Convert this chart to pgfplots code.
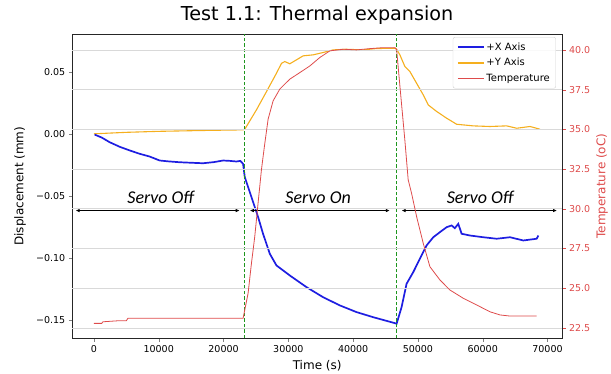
\documentclass[border=0pt]{standalone}
\usepackage{pgfplots}
\pgfplotsset{compat=1.18}
\usepackage{fontspec}
\setmainfont{DejaVu Sans}
\newfontfamily\servofont{Carlito}
\usetikzlibrary{calc,arrows.meta}
\definecolor{cBlue}{RGB}{30,30,225}
\definecolor{cOrange}{RGB}{245,175,30}
\definecolor{cRed}{RGB}{222,75,75}
\definecolor{cGreen}{RGB}{30,150,30}
\begin{document}
\begin{tikzpicture}
\pgfplotsset{
  every axis/.append style={
    width=489.7pt, height=304.3pt, scale only axis,
    xmin=-3340, xmax=72240,
    scaled x ticks=false, scaled y ticks=false,
    tick align=outside, major tick length=3.5pt,
    tick label style={font=\fontsize{9.5}{11}\selectfont},
    axis line style={line width=0.8pt, black!85},
  }
}
\begin{axis}[
  ymin=-0.1647, ymax=0.0804,
  xtick={0,10000,20000,30000,40000,50000,60000,70000},
  xticklabels={0,10000,20000,30000,40000,50000,60000,70000},
  ytick={-0.15,-0.10,-0.05,0,0.05},
  yticklabels={−0.15,−0.10,−0.05,0.00,0.05},
  xtick pos=lower, ytick pos=left,
  xlabel={Time (s)},
  ylabel={Displacement (mm)},
  xlabel style={at={(axis description cs:0.5,-0.091)}, anchor=center, font=\fontsize{12}{14}\selectfont},
  ylabel style={at={(axis description cs:-0.1068,0.5)}, anchor=center, font=\fontsize{12}{14}\selectfont},
  title={Test 1.1: Thermal expansion},
  title style={at={(axis description cs:0.5,1.0256)}, anchor=base, font=\fontsize{19.2}{22}\selectfont},
  clip=true,
]
\coordinate (sw) at (rel axis cs:0,0);
\coordinate (ne) at (rel axis cs:1,1);
% Y axis
\addplot[color=cOrange, line width=1.1pt] coordinates {
(0,0.0) (5000,0.0012) (10000,0.002) (17000,0.0027) (23000,0.0032) (23280,0.0037)
(25080,0.0193) (26630,0.034) (28170,0.0488) (28950,0.0568) (29460,0.0582) (30230,0.0564)
(31260,0.0596) (32290,0.0628) (33830,0.0636) (35370,0.0655) (36920,0.0676) (38980,0.0681)
(41550,0.0676) (43620,0.0687) (46450,0.0689) (46710,0.0681) (47220,0.0636) (47990,0.0542)
(48760,0.0502) (49800,0.0407) (50820,0.0314) (51590,0.0233) (52890,0.018) (54430,0.0126)
(55980,0.0077) (58540,0.0064) (61120,0.0059) (63700,0.0064) (65250,0.0045) (67300,0.0059)
(68850,0.0037)
};
% X axis
\addplot[color=cBlue, line width=1.7pt] coordinates {
(100,-0.0006) (1200,-0.003) (2440,-0.0068) (4000,-0.0105) (5530,-0.0134) (7000,-0.016)
(8600,-0.0183) (10150,-0.0215) (11500,-0.0222) (13250,-0.0229) (15000,-0.0233) (16840,-0.0237)
(18500,-0.0228) (19930,-0.0215) (21000,-0.0218) (21990,-0.0223) (22600,-0.0218) (23020,-0.0242)
(23280,-0.0349) (24310,-0.051) (25340,-0.0671) (26100,-0.0805) (27140,-0.0966) (28170,-0.106)
(30230,-0.1141) (32810,-0.1235) (35370,-0.1316) (37950,-0.1382) (40530,-0.1436) (43100,-0.1477)
(46450,-0.1525) (46710,-0.1530) (47480,-0.1396) (48250,-0.1208) (49280,-0.1114) (50310,-0.1006)
(51340,-0.0899) (52370,-0.0833) (53400,-0.0792) (54430,-0.0752) (55210,-0.0738) (55700,-0.0760)
(56230,-0.0725) (56750,-0.0805) (58030,-0.0819) (60090,-0.0833) (62150,-0.0845) (64210,-0.0833)
(66270,-0.0859) (68330,-0.0845) (68590,-0.0819)
};
% vertical dashed lines
\addplot[color=cGreen, line width=0.8pt, dash pattern=on 3.5pt off 2pt] coordinates {(23170,-0.1647) (23170,0.0804)};
\addplot[color=cGreen, line width=0.8pt, dash pattern=on 3.5pt off 2pt] coordinates {(46710,-0.1647) (46710,0.0804)};
% arrows
\draw[{Latex[length=4pt,width=3.5pt]}-{Latex[length=4pt,width=3.5pt]}, line width=0.8pt] (axis cs:-2830,-0.0618) -- (axis cs:22500,-0.0618);
\draw[{Latex[length=4pt,width=3.5pt]}-{Latex[length=4pt,width=3.5pt]}, line width=0.8pt] (axis cs:24050,-0.0618) -- (axis cs:45670,-0.0618);
\draw[{Latex[length=4pt,width=3.5pt]}-{Latex[length=4pt,width=3.5pt]}, line width=0.8pt] (axis cs:47480,-0.0618) -- (axis cs:71470,-0.0618);
\node[font=\servofont\itshape\fontsize{18}{20}\selectfont] at (axis cs:10300,-0.0513) {Servo Off};
\node[font=\servofont\itshape\fontsize{18}{20}\selectfont] at (axis cs:34600,-0.0513) {Servo On};
\node[font=\servofont\itshape\fontsize{18}{20}\selectfont] at (axis cs:59600,-0.0513) {Servo Off};
\end{axis}
\begin{axis}[
  ymin=21.85, ymax=41.0,
  axis x line=none, axis y line*=right,
  ytick={22.5,25,27.5,30,32.5,35,37.5,40},
  yticklabels={22.5,25.0,27.5,30.0,32.5,35.0,37.5,40.0},
  yticklabel style={text=cRed},
  ytick style={draw=cRed},
  ymajorgrids, grid style={gray!30, line width=0.6pt},
  ylabel={Temperature (oC)},
  ylabel style={at={(axis description cs:1.0817,0.5)}, anchor=center, text=cRed, font=\fontsize{12}{14}\selectfont},
  legend style={at={(axis description cs:0.9877,0.99)}, anchor=north east, draw=gray!35, rounded corners=2pt,
    fill=white, fill opacity=0.85, text opacity=1, font=\fontsize{10}{12}\selectfont,
    row sep=2.5pt, inner xsep=4pt, inner ysep=3.5pt},
  legend cell align=left,
  legend image code/.code={\draw[#1] (0cm,0cm) -- (0.9cm,0cm);},
]
\addlegendimage{draw=cBlue, line width=1.8pt}
\addlegendentry{+X Axis}
\addlegendimage{draw=cOrange, line width=1.8pt}
\addlegendentry{+Y Axis}
\addplot[color=cRed, line width=0.8pt, legend image post style={line width=1.5pt}] coordinates {
(0,22.79) (1200,22.79) (1390,22.89) (3970,22.96) (5000,22.96) (5250,23.11) (23020,23.11)
(23790,24.68) (24310,26.57) (24820,28.25) (25330,30.35) (25850,32.45) (26300,33.9)
(26880,35.64) (27650,36.79) (28680,37.53) (30230,38.16) (31770,38.57) (33320,38.99)
(34860,39.52) (36410,39.94) (38510,40.04) (40530,40.0) (42590,40.08) (44640,40.14)
(46450,40.14) (46710,40.04) (47220,37.73) (47990,34.3) (48500,31.82) (49020,30.98)
(49800,29.51) (50820,27.83) (51850,26.36) (53400,25.52) (54940,24.89) (57000,24.37)
(59060,23.95) (61120,23.52) (62670,23.32) (64210,23.25) (68330,23.25)
};
\addlegendentry{Temperature}
\end{axis}
\pgfresetboundingbox
\path[use as bounding box] ($(sw)+(-72.3pt,-34.7pt)$) rectangle ($(ne)+(49pt,34pt)$);
\end{tikzpicture}
\end{document}
